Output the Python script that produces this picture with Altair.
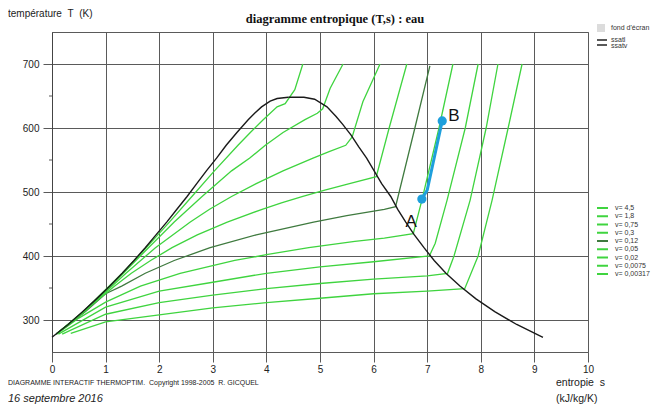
import altair as alt
import pandas as pd

# ---------------- data ----------------
V_LABELS = ["v= 4,5", "v= 1,8", "v= 0,75", "v= 0,3", "v= 0,12",
            "v= 0,05", "v= 0,02", "v= 0,0075", "v= 0,00317"]
V_COLORS = ["#3fd43f", "#3fd43f", "#3fd43f", "#3fd43f", "#3f7a3f",
            "#3fd43f", "#3fd43f", "#3fd43f", "#3fd43f"]

# saturation curve (liquid / vapour)
S_SATL = [0.0, 0.30, 0.57, 0.83, 1.08, 1.31, 1.53, 1.74, 1.94, 2.14, 2.33, 2.52,
          2.70, 2.88, 3.07, 3.25, 3.45, 3.66, 3.78, 3.91, 4.07, 4.20, 4.41]
T_SATL = [273, 293, 313, 333, 353, 373, 393, 413, 433, 453, 473, 493,
          513, 533, 553, 573, 593, 613, 623, 633, 642, 646, 648]
S_SATV = [4.41, 4.70, 4.90, 5.13, 5.30, 5.42, 5.58, 5.72, 5.87, 6.01, 6.15, 6.32,
          6.45, 6.60, 6.76, 6.94, 7.13, 7.35, 7.61, 7.91, 8.26, 8.67, 9.16]
T_SATV = [648, 648, 645, 633, 618, 606, 589, 571, 553, 533, 513, 493,
          473, 453, 433, 413, 393, 373, 353, 333, 313, 293, 273]

# isochores
S_V4_5 = [0.35, 1.0, 2.0, 3.0, 4.0, 5.0, 6.0, 7.0, 7.70, 7.95, 8.21, 8.51, 8.77]
T_V4_5 = [279, 297, 308, 319, 327, 334, 341, 345, 349, 400, 487, 600, 700]
S_V1_8 = [0.19, 1.0, 2.0, 3.0, 4.0, 5.0, 6.0, 7.0, 7.38, 7.50, 7.80, 8.10, 8.32]
T_V1_8 = [278, 309, 327, 339, 349, 357, 364, 369, 373, 400, 487, 600, 700]
S_V0_75 = [0.12, 1.0, 2.0, 3.0, 4.0, 5.0, 6.0, 7.04, 7.15, 7.37, 7.71, 7.95]
T_V0_75 = [278, 320, 345, 359, 373, 383, 391, 400, 420, 487, 600, 700]
S_V0_3 = [0.09, 0.5, 1.0, 1.65, 2.39, 3.41, 4.0, 4.79, 5.65, 6.2, 6.74, 6.90, 7.22, 7.48]
T_V0_3 = [278, 303, 328, 353, 373, 393, 402, 413, 423, 428, 435, 487, 600, 700]
S_V0_12 = [0.08, 0.62, 1.0, 1.30, 1.74, 2.28, 2.95, 3.81, 4.88, 5.50, 6.20, 6.41, 6.77, 7.05]
T_V0_12 = [278, 313, 341, 353, 373, 393, 413, 433, 453, 463, 473, 477, 600, 697]
S_V0_05 = [0.08, 0.59, 1.17, 1.48, 1.84, 2.24, 2.71, 3.27, 3.92, 4.28, 4.68, 5.09, 5.55, 6.05, 6.29, 6.62]
T_V0_05 = [278, 313, 353, 373, 393, 413, 433, 453, 473, 483, 493, 503, 513, 524, 600, 700]
S_V0_02 = [0.08, 0.60, 1.38, 1.93, 2.58, 2.94, 3.35, 3.81, 4.31, 4.87, 5.17, 5.48, 5.60, 5.80, 6.12]
T_V0_02 = [278, 313, 373, 413, 453, 473, 493, 513, 533, 553, 563, 573, 586, 641, 700]
S_V0_0075 = [0.08, 0.60, 1.33, 1.80, 2.28, 2.80, 3.35, 3.69, 3.98, 4.31, 4.72, 4.95, 5.05, 5.19, 5.43]
T_V0_0075 = [278, 313, 373, 413, 453, 493, 533, 553, 573, 593, 613, 623, 630, 662, 700]
S_V0_00317 = [0.08, 0.58, 1.31, 1.76, 2.19, 2.61, 3.03, 3.47, 3.70, 3.94, 4.20, 4.35, 4.53, 4.68]
T_V0_00317 = [278, 313, 373, 413, 453, 493, 533, 573, 593, 613, 633, 638, 660, 700]

# process A -> B
S_AB = [6.90, 7.00, 7.28]
T_AB = [489, 503, 611]
S_AB_PTS = [6.90, 7.28]
T_AB_PTS = [489, 611]
AB_LABELS = ["A", "B"]
S_AB_LAB = [6.70, 7.50]
T_AB_LAB = [453, 619]

X_TICKS = list(range(0, 11))
Y_TICKS = [300, 400, 500, 600, 700]
Y_MINOR = [350, 450, 550, 650]

# ---------------- build tables ----------------
iso_S = [S_V4_5, S_V1_8, S_V0_75, S_V0_3, S_V0_12, S_V0_05, S_V0_02, S_V0_0075, S_V0_00317]
iso_T = [T_V4_5, T_V1_8, T_V0_75, T_V0_3, T_V0_12, T_V0_05, T_V0_02, T_V0_0075, T_V0_00317]
rows = []
for lab, S, T in zip(V_LABELS, iso_S, iso_T):
    for i, (s, t) in enumerate(zip(S, T)):
        rows.append({"v": lab, "s": s, "T": t, "i": i})
iso_df = pd.DataFrame(rows)

sat_rows = []
for name, S, T in (("ssatl", S_SATL, T_SATL), ("ssatv", S_SATV, T_SATV)):
    for i, (s, t) in enumerate(zip(S, T)):
        sat_rows.append({"c": name, "s": s, "T": t, "i": i})
sat_df = pd.DataFrame(sat_rows)

ab_df = pd.DataFrame({"s": S_AB, "T": T_AB, "i": range(len(S_AB))})
abp_df = pd.DataFrame({"s": S_AB_PTS, "T": T_AB_PTS})
abl_df = pd.DataFrame({"s": S_AB_LAB, "T": T_AB_LAB, "t": AB_LABELS})
minor_df = pd.DataFrame({"T": Y_MINOR})

SANS = "Liberation Sans"
NARROW = "Liberation Sans Narrow, Liberation Sans"
SERIF = "Liberation Serif"
GRID = "#5a5a5a"
NB = "\u00a0"

X = alt.X("s:Q", scale=alt.Scale(domain=[0, 10], nice=False, zero=False),
          axis=alt.Axis(values=X_TICKS, title=None, grid=True, gridColor=GRID,
                        gridWidth=1, tickSize=10, tickColor=GRID, domain=False,
                        labelPadding=2, labelFontSize=10, labelFont=SANS,
                        labelColor="#222", format="d", labelFlush=False))
Y = alt.Y("T:Q", scale=alt.Scale(domain=[250, 750], nice=False, zero=False),
          axis=alt.Axis(values=Y_TICKS, title=None, grid=True, gridColor=GRID,
                        gridWidth=1, tickSize=9, tickColor=GRID, domain=True,
                        domainColor="#444", labelPadding=4, labelFontSize=10,
                        labelFont=SANS, labelColor="#222", format="d"))

iso = alt.Chart(iso_df).mark_line(strokeWidth=1.3).encode(
    x=X, y=Y,
    color=alt.Color("v:N", scale=alt.Scale(domain=V_LABELS, range=V_COLORS), legend=None),
    detail="v:N", order="i:Q")

sat = alt.Chart(sat_df).mark_line(color="#1a1a1a", strokeWidth=1.4).encode(
    x=X, y=Y, detail="c:N", order="i:Q")

minor = alt.Chart(minor_df).mark_rule(color=GRID, strokeWidth=1).encode(
    y=Y, x=alt.value(-3), x2=alt.value(0))

ab = alt.Chart(ab_df).mark_line(color="#1e9fdc", strokeWidth=3).encode(
    x=X, y=Y, order="i:Q")
abp = alt.Chart(abp_df).mark_circle(color="#1e9fdc", size=85, opacity=1).encode(x=X, y=Y)
abl = alt.Chart(abl_df).mark_text(font=SANS, fontSize=17, color="#111").encode(
    x=X, y=Y, text="t:N")


def txt(text, x, y, size, font=SANS, weight="normal", style="normal",
        align="left", color="#222"):
    return alt.Chart(alt.Data(values=[{}])).mark_text(
        text=text, font=font, fontSize=size, fontWeight=weight, fontStyle=style,
        align=align, baseline="middle", color=color
    ).encode(x=alt.value(x), y=alt.value(y))


texts = [
    txt(f"température{NB}{NB}T{NB}{NB}(K)", -44, -18, 10),
    txt("diagramme entropique (T,s) : eau", 283, -13, 12.5, font=SERIF, weight="bold",
        align="center", color="#111"),
    txt(f"DIAGRAMME INTERACTIF THERMOPTIM.{NB}{NB}Copyright 1998-2005{NB}{NB}R. GICQUEL",
        -44, 351, 7, font=NARROW),
    txt("16 septembre 2016", -44, 367, 11, style="italic"),
    txt(f"entropie{NB}{NB}s", 504, 351, 10.5),
    txt("(kJ/kg/K)", 504, 367, 10.5),
]

# legends (drawn as marks in pixel space)
leg_df = pd.DataFrame({"v": V_LABELS,
                       "ly": [176 + 8.25 * k for k in range(len(V_LABELS))]})
leg_lines = alt.Chart(leg_df).mark_rule(strokeWidth=2).encode(
    y=alt.Y("ly:Q", scale=None), x=alt.value(545), x2=alt.value(556),
    color=alt.Color("v:N", scale=alt.Scale(domain=V_LABELS, range=V_COLORS), legend=None))
leg_text = alt.Chart(leg_df).mark_text(font=SANS, fontSize=7, align="left",
                                       baseline="middle", color="#333").encode(
    y=alt.Y("ly:Q", scale=None), x=alt.value(563), text="v:N")

top_leg = [
    alt.Chart(alt.Data(values=[{}])).mark_rect(color="#dcdcdc").encode(
        x=alt.value(545), x2=alt.value(553), y=alt.value(-8), y2=alt.value(0)),
    txt("fond d'écran", 559, -4, 7, color="#333"),
    alt.Chart(alt.Data(values=[{}])).mark_rule(color="#222", strokeWidth=1.5).encode(
        x=alt.value(545), x2=alt.value(555), y=alt.value(8)),
    txt("ssatl", 559, 8, 7, color="#333"),
    alt.Chart(alt.Data(values=[{}])).mark_rule(color="#222", strokeWidth=1.5).encode(
        x=alt.value(545), x2=alt.value(555), y=alt.value(13)),
    txt("ssatv", 559, 14, 7, color="#333"),
]

chart = alt.layer(
    iso, sat, minor, ab, abp, abl, leg_lines, leg_text, *texts, *top_leg
).properties(
    width=536, height=320, autosize="none",
    padding={"left": 44, "top": 24, "right": 63, "bottom": 56},
    background="white",
).configure_view(stroke=GRID, strokeWidth=1)

chart.save("out.html", embed_options={"renderer": "svg", "actions": False})
